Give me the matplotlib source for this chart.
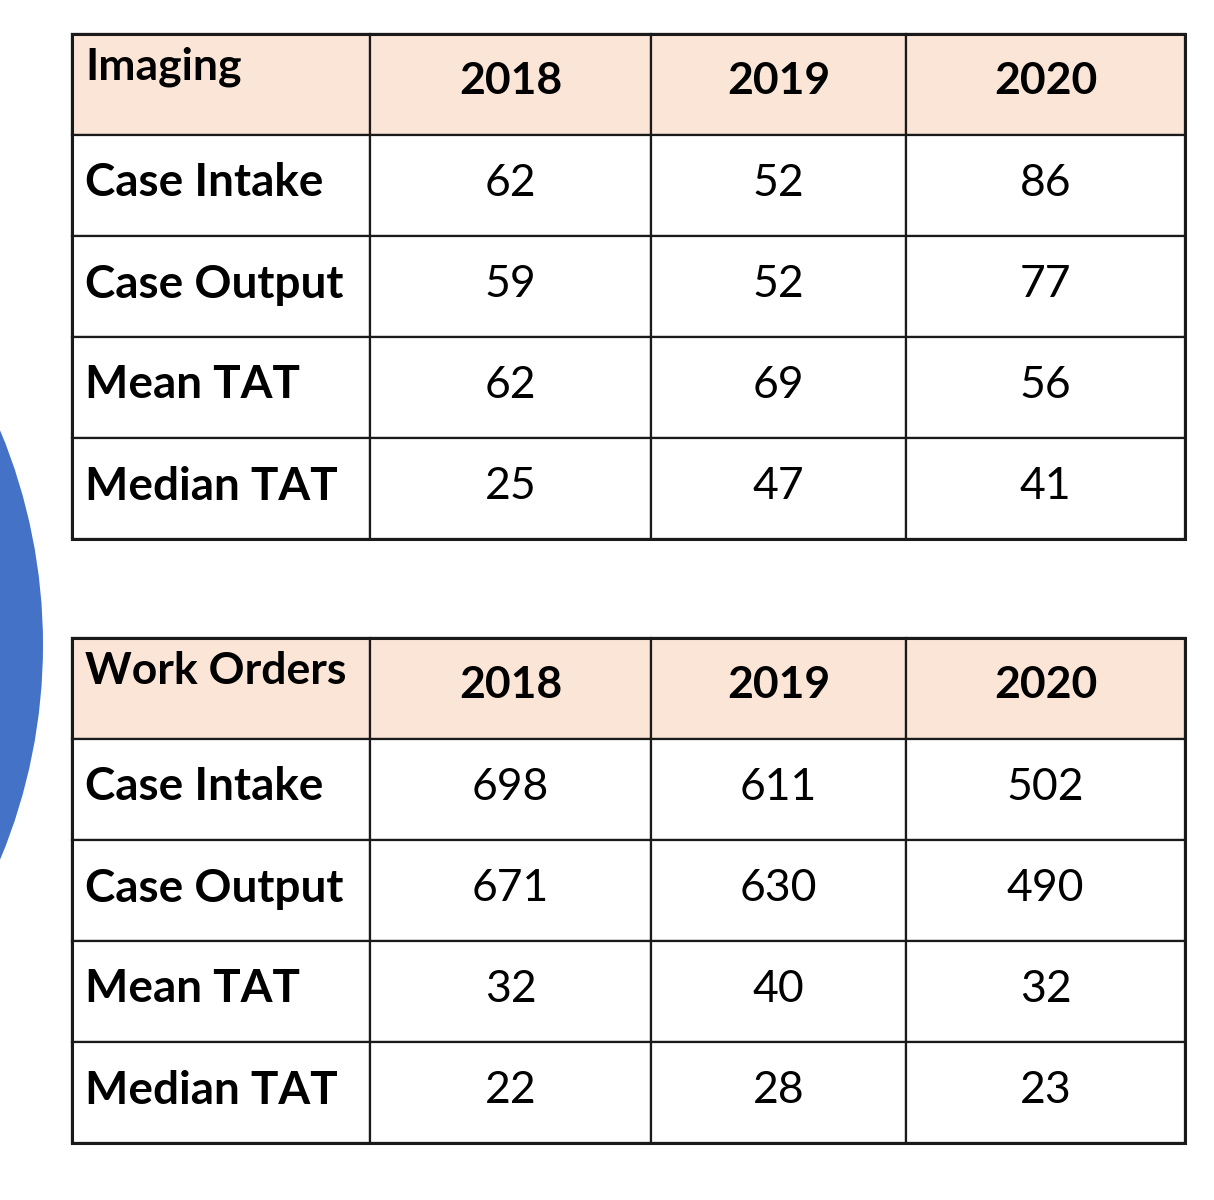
import matplotlib.pyplot as plt
from matplotlib.patches import Rectangle, Circle

# Table data
years = ["2018", "2019", "2020"]
metrics = ["Case Intake", "Case Output", "Mean TAT", "Median TAT"]
imaging = [[62, 52, 86],
           [59, 52, 77],
           [62, 69, 56],
           [25, 47, 41]]
work_orders = [[698, 611, 502],
               [671, 630, 490],
               [32, 40, 32],
               [22, 28, 23]]

plt.rcParams['font.family'] = ['Lato', 'DejaVu Sans']

fig = plt.figure(figsize=(12.14, 12.0), dpi=100)
ax = fig.add_axes([0, 0, 1, 1])
ax.set_xlim(0, 1214)
ax.set_ylim(1200, 0)
ax.axis('off')

# partial blue circle on the left edge
ax.add_patch(Circle((-516, 645), 559, facecolor='#4372c6', edgecolor='none', zorder=0))

col_edges = [72, 370, 651, 906, 1185]
header_fill = '#fbe5d6'


def draw_table(title, values, top, row_h):
    rows = [[title] + years] + [[m] + [str(v) for v in vals] for m, vals in zip(metrics, values)]
    for r, row in enumerate(rows):
        y0 = top + r * row_h
        for c, txt in enumerate(row):
            x0, x1 = col_edges[c], col_edges[c + 1]
            face = header_fill if r == 0 else 'white'
            ax.add_patch(Rectangle((x0, y0), x1 - x0, row_h, facecolor=face,
                                   edgecolor='#1a1a1a', linewidth=1.6, zorder=1))
            if r == 0 and c == 0:
                ax.text(x0 + 13, y0 + 33, txt, fontsize=32, fontweight='bold',
                        ha='left', va='center', zorder=2)
            elif r == 0:
                ax.text((x0 + x1) / 2, y0 + row_h / 2 - 3, txt, fontsize=32,
                        fontweight='bold', ha='center', va='center', zorder=2)
            elif c == 0:
                ax.text(x0 + 13, y0 + row_h / 2 - 2, txt, fontsize=33,
                        fontweight='bold', ha='left', va='center', zorder=2)
            else:
                ax.text((x0 + x1) / 2, y0 + row_h / 2 - 2, txt, fontsize=32,
                        ha='center', va='center', zorder=2)
    # thicker outer border
    ax.add_patch(Rectangle((col_edges[0], top), col_edges[-1] - col_edges[0], row_h * len(rows),
                           facecolor='none', edgecolor='#1a1a1a', linewidth=2.2, zorder=3))


draw_table("Imaging", imaging, 34, 101)
draw_table("Work Orders", work_orders, 638, 101)

fig.savefig("out.png", dpi=100, facecolor='white')
